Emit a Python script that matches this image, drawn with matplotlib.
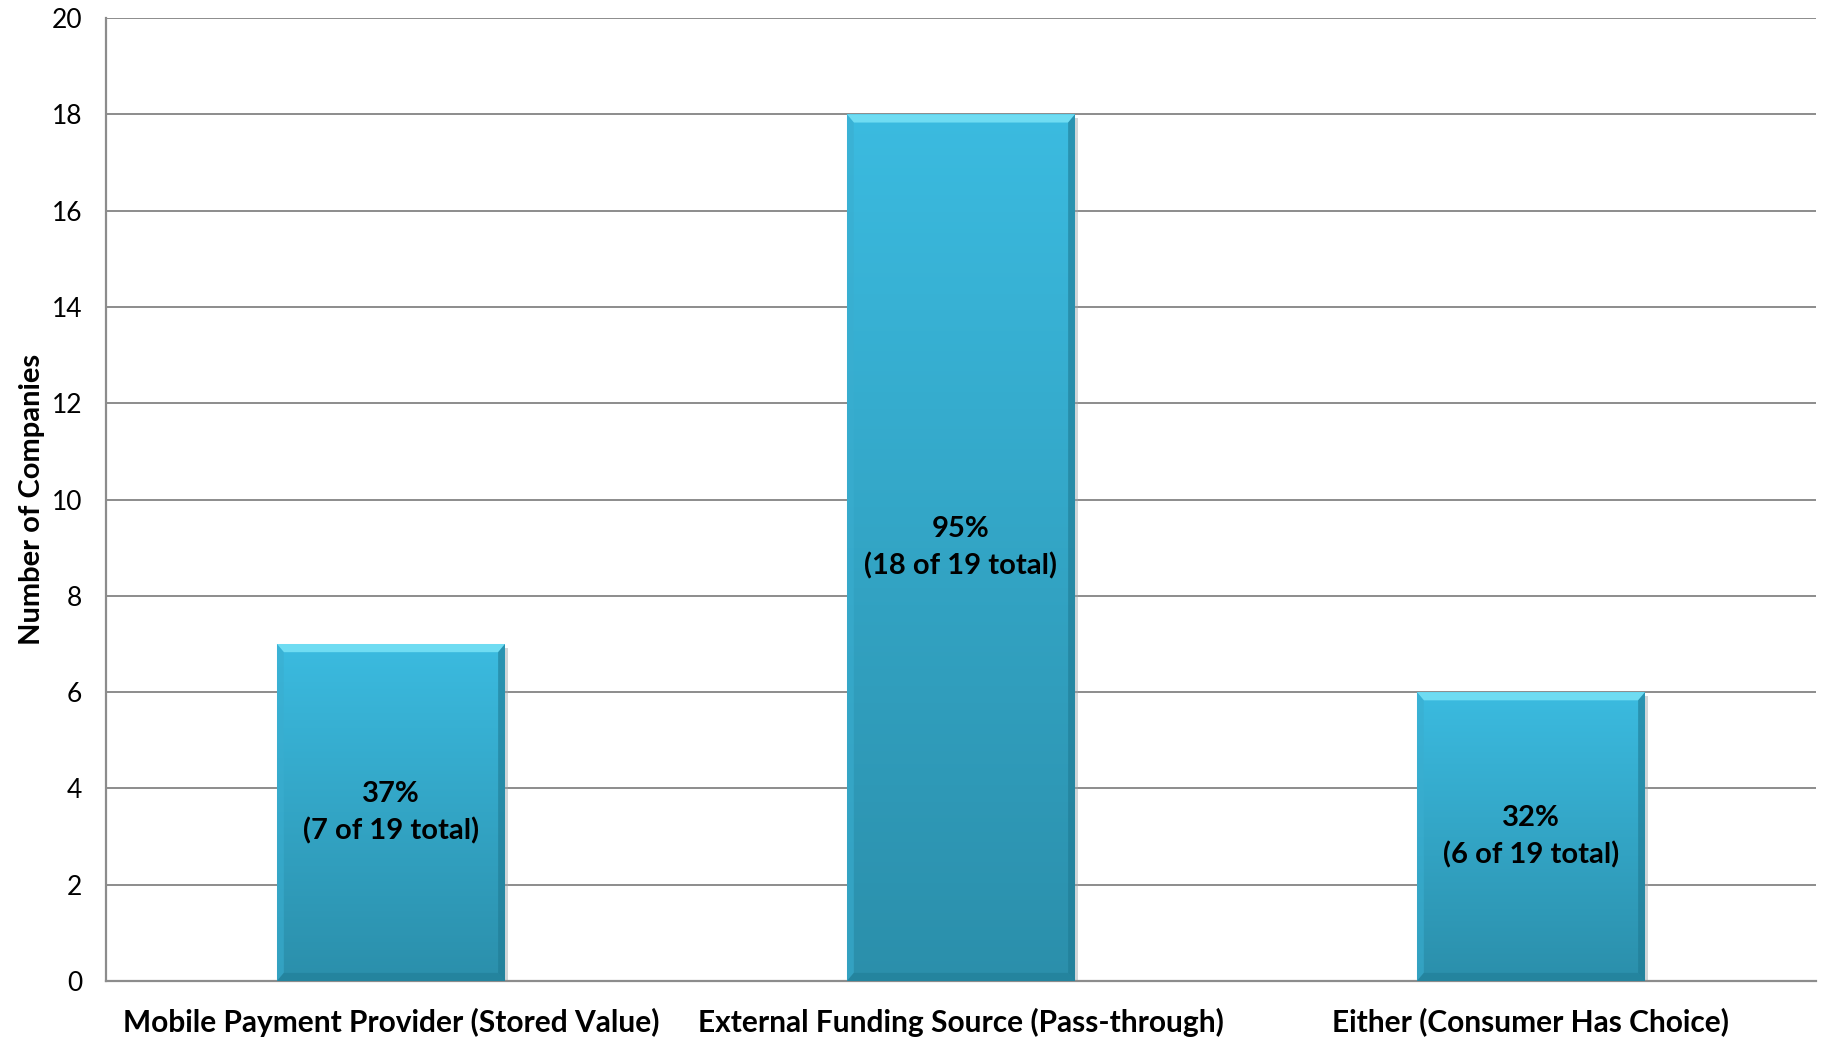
import numpy as np
import matplotlib.pyplot as plt
from matplotlib.colors import LinearSegmentedColormap
from matplotlib.patches import Polygon

categories = ["Mobile Payment Provider (Stored Value)",
              "External Funding Source (Pass-through)",
              "Either (Consumer Has Choice)"]
counts = [7, 18, 6]
labels = ["37%\n(7 of 19 total)", "95%\n(18 of 19 total)", "32%\n(6 of 19 total)"]
yticks = [0, 2, 4, 6, 8, 10, 12, 14, 16, 18, 20]

plt.rcParams['font.family'] = ['Lato', 'DejaVu Sans']

fig = plt.figure(figsize=(18.24, 10.43), dpi=100)
ax = fig.add_axes([0.0581, 0.0594, 0.9375, 0.9233])

x = np.arange(len(categories))
width = 0.40
bars = ax.bar(x, counts, width=width, color="none", edgecolor="none", zorder=3)

# gradient fill, lighter at top, darker at bottom
cmap = LinearSegmentedColormap.from_list("bar", ["#2b8fab", "#3bbbe0"])
grad = np.linspace(0, 1, 256).reshape(-1, 1)
for b in bars:
    x0, w, h = b.get_x(), b.get_width(), b.get_height()
    # soft shadow
    sh = plt.Rectangle((x0 + 0.006, -0.08), w, h, color="#9aa5aa", alpha=0.45, zorder=2, lw=0)
    ax.add_patch(sh)
    im = ax.imshow(grad, cmap=cmap, origin="lower", aspect="auto",
                   extent=(x0, x0 + w, 0, h), zorder=3)
    im.set_clip_path(b)
    # bevel edges
    bx = 0.012
    by = 0.17
    top = Polygon([(x0, h), (x0 + w, h), (x0 + w - bx, h - by), (x0 + bx, h - by)],
                  closed=True, color="#6fdcf2", lw=0, zorder=4)
    left = Polygon([(x0, 0), (x0, h), (x0 + bx, h - by), (x0 + bx, by)],
                   closed=True, color="#3aaed0", alpha=0.6, lw=0, zorder=4)
    right = Polygon([(x0 + w, 0), (x0 + w, h), (x0 + w - bx, h - by), (x0 + w - bx, by)],
                    closed=True, color="#1f7a93", alpha=0.6, lw=0, zorder=4)
    bottom = Polygon([(x0, 0), (x0 + w, 0), (x0 + w - bx, by), (x0 + bx, by)],
                     closed=True, color="#1f7a93", alpha=0.5, lw=0, zorder=4)
    for p in (top, left, right, bottom):
        ax.add_patch(p)

for xi, c, lab in zip(x, counts, labels):
    ax.text(xi, c / 2, lab, ha="center", va="center", fontsize=21,
            fontweight="bold", color="black", linespacing=1.45, zorder=5)

ax.set_xlim(-0.5, len(categories) - 0.5)
ax.set_ylim(0, 20)
ax.set_yticks(yticks)
ax.set_yticklabels([str(t) for t in yticks], fontsize=19)
ax.set_xticks(x)
ax.set_xticklabels(categories, fontsize=21.5, fontweight="bold")
ax.tick_params(axis="both", length=0)
ax.tick_params(axis="y", pad=17)
ax.tick_params(axis="x", pad=19)
ax.yaxis.grid(True, color="#8c8c8c", lw=1.4, zorder=1)
ax.set_axisbelow(True)
for s in ("top", "right"):
    ax.spines[s].set_visible(False)
for s in ("left", "bottom"):
    ax.spines[s].set_color("#8c8c8c")
    ax.spines[s].set_linewidth(1.6)
ax.set_ylabel("Number of Companies", fontsize=21, fontweight="bold", labelpad=5)

fig.savefig("out.png", dpi=100)
